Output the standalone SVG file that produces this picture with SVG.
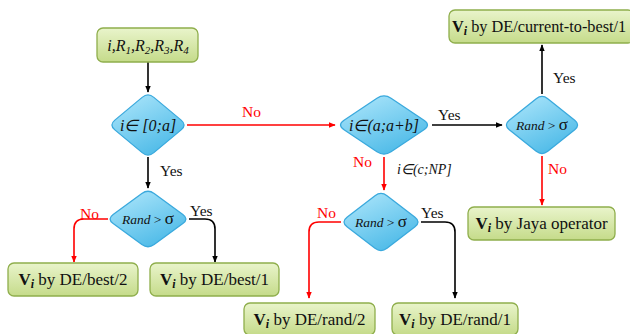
<svg xmlns="http://www.w3.org/2000/svg" width="630" height="334" viewBox="0 0 630 334">
<style>
text{font-family:"Liberation Serif","Times New Roman",serif;fill:#111}
.box{fill:url(#gg);stroke:#8fae4c;stroke-width:1.3}
.dia{fill:url(#bg);stroke:#3aa9dd;stroke-width:1.3}
.bt{font-size:17px;text-anchor:middle}
.lb{font-size:15.5px}
.red{fill:#f00}
.ck{fill:none;stroke:#000;stroke-width:1.6;marker-end:url(#ak)}
.cr{fill:none;stroke:#f00;stroke-width:1.6;marker-end:url(#ar)}
.dt{font-style:italic;text-anchor:middle}
</style>
<defs>
<linearGradient id="gg" x1="0" y1="0" x2="0" y2="1"><stop offset="0" stop-color="#e9f4cb"/><stop offset="1" stop-color="#c5db8a"/></linearGradient>
<linearGradient id="bg" x1="0.2" y1="0" x2="0.8" y2="1"><stop offset="0" stop-color="#a9e4fa"/><stop offset="1" stop-color="#46b7e6"/></linearGradient>
<marker id="ak" viewBox="0 0 10 10" refX="9" refY="5" markerWidth="7" markerHeight="7" orient="auto" markerUnits="userSpaceOnUse"><path d="M0,1 L10,5 L0,9 Z" fill="#000"/></marker>
<marker id="ar" viewBox="0 0 10 10" refX="9" refY="5" markerWidth="7" markerHeight="7" orient="auto" markerUnits="userSpaceOnUse"><path d="M0,1 L10,5 L0,9 Z" fill="#f00"/></marker>
</defs>

<g id="connectors">
<path class="ck" d="M148,62 V92"/>
<path class="ck" d="M148,157 V188"/>
<path class="cr" d="M108,219 H84 Q74,219 74,229 V262"/>
<path class="ck" d="M189,219 H205 Q215,219 215,229 V262"/>
<path class="cr" d="M187,125 H335"/>
<path class="ck" d="M432,125 H502"/>
<path class="cr" d="M384,157 V190"/>
<path class="cr" d="M341,222 H319 Q309,222 309,232 V298"/>
<path class="ck" d="M421,222 H445 Q455,222 455,232 V298"/>
<path class="ck" d="M542,94 V45"/>
<path class="cr" d="M542,156 V205"/>
<text class="lb red" x="242" y="117">No</text>
<text class="lb" x="160" y="176">Yes</text>
<text class="lb red" x="80" y="219">No</text>
<text class="lb" x="190" y="216">Yes</text>
<text class="lb" x="438" y="120">Yes</text>
<text class="lb red" x="353" y="167">No</text>
<text x="397" y="174" style="font-size:14px;font-style:italic">i∈(c;NP]</text>
<text class="lb red" x="317" y="218">No</text>
<text class="lb" x="421" y="218">Yes</text>
<text class="lb" x="553" y="83">Yes</text>
<text class="lb red" x="548" y="174">No</text>
</g>

<g id="start">
<rect class="box" x="97" y="28" width="101" height="34" rx="6"/>
<text x="148" y="51" class="dt" style="font-size:16px">i,R<tspan font-size="11" dy="3">1</tspan><tspan dy="-3">,R</tspan><tspan font-size="11" dy="3">2</tspan><tspan dy="-3">,R</tspan><tspan font-size="11" dy="3">3</tspan><tspan dy="-3">,R</tspan><tspan font-size="11" dy="3">4</tspan></text>
</g>

<g id="d1">
<path class="dia" d="M142.15,97.375 Q148,92.5 153.85,97.375 L181.15,120.125 Q187,125 181.15,129.875 L153.85,152.625 Q148,157.5 142.15,152.625 L114.85,129.875 Q109,125 114.85,120.125 Z"/>
<text x="148" y="131" class="dt" style="font-size:16px">i∈ [0;a]</text>
</g>

<g id="d2">
<path class="dia" d="M141.85,193.5 Q148,189 154.15,193.5 L182.85,214.5 Q189,219 182.85,223.5 L154.15,244.5 Q148,249 141.85,244.5 L113.15,223.5 Q107,219 113.15,214.5 Z"/>
<text x="148" y="224" class="dt" style="font-size:13.5px">Rand <tspan font-style="normal">&gt; </tspan><tspan font-style="normal" font-size="17">σ</tspan></text>
</g>

<g id="d3">
<path class="dia" d="M376.95,98.225 Q384,93.5 391.05,98.225 L423.95,120.275 Q431,125 423.95,129.725 L391.05,151.775 Q384,156.5 376.95,151.775 L344.05,129.725 Q337,125 344.05,120.275 Z"/>
<text x="384" y="131" class="dt" style="font-size:16px">i∈(a;a+b]</text>
</g>

<g id="d4">
<path class="dia" d="M375,195.65 Q381,191 387,195.65 L415,217.35 Q421,222 415,226.65 L387,248.35 Q381,253 375,248.35 L347,226.65 Q341,222 347,217.35 Z"/>
<text x="381" y="227" class="dt" style="font-size:13.5px">Rand <tspan font-style="normal">&gt; </tspan><tspan font-style="normal" font-size="17">σ</tspan></text>
</g>

<g id="d5">
<path class="dia" d="M536.225,98.65 Q542,94 547.775,98.65 L574.725,120.35 Q580.5,125 574.725,129.65 L547.775,151.35 Q542,156 536.225,151.35 L509.275,129.65 Q503.5,125 509.275,120.35 Z"/>
<text x="542" y="130" class="dt" style="font-size:13.5px">Rand <tspan font-style="normal">&gt; </tspan><tspan font-style="normal" font-size="17">σ</tspan></text>
</g>

<g id="best2">
<rect class="box" x="8" y="263" width="130" height="33" rx="6"/>
<text class="bt" x="73" y="285"><tspan font-weight="bold">V</tspan><tspan font-weight="bold" font-style="italic" font-size="12" dy="3">i</tspan><tspan dy="-3"> by DE/best/2</tspan></text>
</g>

<g id="best1">
<rect class="box" x="150" y="263" width="129" height="33" rx="6"/>
<text class="bt" x="214.5" y="285"><tspan font-weight="bold">V</tspan><tspan font-weight="bold" font-style="italic" font-size="12" dy="3">i</tspan><tspan dy="-3"> by DE/best/1</tspan></text>
</g>

<g id="rand2">
<rect class="box" x="244" y="303" width="131" height="32" rx="6"/>
<text class="bt" x="309.5" y="325"><tspan font-weight="bold">V</tspan><tspan font-weight="bold" font-style="italic" font-size="12" dy="3">i</tspan><tspan dy="-3"> by DE/rand/2</tspan></text>
</g>

<g id="rand1">
<rect class="box" x="392" y="303" width="126" height="32" rx="6"/>
<text class="bt" x="455" y="325"><tspan font-weight="bold">V</tspan><tspan font-weight="bold" font-style="italic" font-size="12" dy="3">i</tspan><tspan dy="-3"> by DE/rand/1</tspan></text>
</g>

<g id="jaya">
<rect class="box" x="468" y="207" width="147" height="33" rx="6"/>
<text class="bt" x="541.5" y="229"><tspan font-weight="bold">V</tspan><tspan font-weight="bold" font-style="italic" font-size="12" dy="3">i</tspan><tspan dy="-3"> by Jaya operator</tspan></text>
</g>

<g id="ctb">
<rect class="box" x="449" y="10" width="185" height="33" rx="6"/>
<text x="452" y="32" style="font-size:16.3px"><tspan font-weight="bold">V</tspan><tspan font-weight="bold" font-style="italic" font-size="12" dy="3">i</tspan><tspan dy="-3"> by DE/current-to-best/1</tspan></text>
</g>
</svg>
